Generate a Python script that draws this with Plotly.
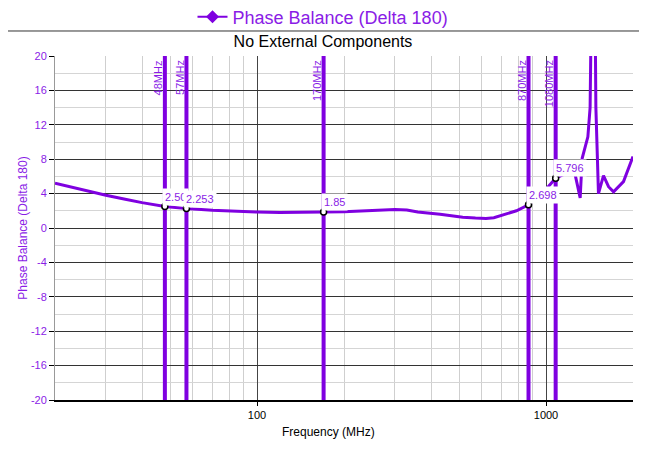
import math
import plotly.graph_objects as go

# ---- data ----
freq_mhz = [20, 25, 30, 35, 40, 48, 57, 70, 85, 100, 120, 145, 170, 200, 250, 300,
            330, 360, 430, 515, 570, 620, 660, 710, 790, 870, 1000, 1080, 1160, 1250,
            1313, 1334, 1396, 1421, 1440, 1475, 1488, 1519, 1581, 1646, 1713, 1854, 2000]
phase_bal = [5.2, 4.4, 3.8, 3.35, 2.95, 2.50, 2.253, 2.05, 1.92, 1.85, 1.8, 1.8, 1.85, 1.9, 2.05, 2.15,
             2.1, 1.85, 1.6, 1.25, 1.15, 1.1, 1.2, 1.55, 2.0, 2.698, 4.5, 5.796, 6.3, 6.8,
             3.5, 8.1, 10.6, 14.0, 30.0, 30.0, 14.0, 4.0, 6.1, 4.8, 4.2, 5.4, 8.3]

marker_freq = [48, 57, 170, 870, 1080]
marker_vals = [2.50, 2.253, 1.85, 2.698, 5.796]
marker_text = ["2.50", "2.253", "1.85", "2.698", "5.796"]
marker_names = ["48MHz", "57MHz", "170MHz", "870MHz", "1080MHz"]

x_tickvals = [100, 1000]
x_ticktext = ["100", "1000"]
x_minor = [20, 30, 40, 50, 60, 70, 80, 90, 200, 300, 400, 500, 600, 700, 800, 900, 2000]
y_tickvals = [-20, -16, -12, -8, -4, 0, 4, 8, 12, 16, 20]
y_ticktext = ["-20", "-16", "-12", "-8", "-4", "0", "4", "8", "12", "16", "20"]

series_name = "Phase Balance (Delta 180)"
subtitle = "No External Components"
x_title = "Frequency (MHz)"
y_title = "Phase Balance (Delta 180)"

PURPLE = "#7F00E0"
TXT_PURPLE = "#8A1CE6"
FONT = "Arial, Liberation Sans, sans-serif"

W, H = 639, 441  # page body has an 8px margin

fig = go.Figure()

# vertical marker lines
for f in marker_freq:
    fig.add_trace(go.Scatter(x=[f, f], y=[-20, 20], mode="lines",
                             line=dict(color=PURPLE, width=4),
                             showlegend=False, hoverinfo="skip"))

# main curve
fig.add_trace(go.Scatter(x=freq_mhz, y=phase_bal, mode="lines",
                         line=dict(color=PURPLE, width=3),
                         showlegend=False))

# legend entry
fig.add_trace(go.Scatter(x=[None], y=[None], mode="lines+markers", name=series_name,
                         line=dict(color=PURPLE, width=2),
                         marker=dict(symbol="diamond", size=10, color=PURPLE)))

# marker points
fig.add_trace(go.Scatter(x=marker_freq, y=marker_vals, mode="markers",
                         marker=dict(symbol="circle", size=6, color="white",
                                     line=dict(color="black", width=1.5)),
                         showlegend=False))

annotations = []
for f, v, t in zip(marker_freq, marker_vals, marker_text):
    annotations.append(dict(x=math.log10(f), y=v, xref="x", yref="y", text=t,
                            showarrow=False, xanchor="left", yanchor="bottom",
                            font=dict(family=FONT, size=11, color=TXT_PURPLE),
                            bgcolor="white", borderpad=2, xshift=-3, yshift=1))
for f, n in zip(marker_freq, marker_names):
    annotations.append(dict(x=math.log10(f), y=1, xref="x", yref="paper", text=n,
                            showarrow=False, textangle=-90, xanchor="center", yanchor="top",
                            font=dict(family=FONT, size=11, color=TXT_PURPLE),
                            xshift=-7, yshift=-2))
annotations.append(dict(x=0.474, y=-0.093, xref="paper", yref="paper", text=x_title,
                        showarrow=False, xanchor="center", yanchor="middle",
                        font=dict(family=FONT, size=12, color="black")))

fig.update_layout(
    width=W, height=H,
    margin=dict(l=47, r=14, t=48, b=49, autoexpand=False),
    paper_bgcolor="white", plot_bgcolor="white",
    font=dict(family=FONT, size=11, color="black"),
    title=dict(text=subtitle, x=(323 - 8) / W, xref="container", xanchor="center",
               y=1 - 33 / H, yref="container", yanchor="middle",
               font=dict(family=FONT, size=16, color="black")),
    legend=dict(orientation="h", x=(323 - 8) / W, xanchor="center", xref="container",
                y=1 - 9 / H, yref="container", yanchor="middle",
                font=dict(family=FONT, size=18, color=TXT_PURPLE),
                bgcolor="rgba(0,0,0,0)", itemwidth=30),
    annotations=annotations,
    shapes=[dict(type="line", xref="paper", yref="paper", x0=-0.1, x1=1.03,
                 y0=1.0727, y1=1.0727, line=dict(color="#333", width=1))],
    showlegend=True,
)

fig.update_xaxes(type="log", range=[math.log10(20), math.log10(2000)],
                 tickmode="array", tickvals=x_tickvals, ticktext=x_ticktext,
                 showgrid=True, gridcolor="#444", gridwidth=1,
                 ticks="outside", ticklen=4, tickcolor="black",
                 showline=True, linecolor="black", linewidth=1.5,
                 tickfont=dict(family=FONT, size=11, color="black"),
                 zeroline=False,
                 minor=dict(tickmode="array", tickvals=x_minor, showgrid=True,
                            gridcolor="#cfcfcf", gridwidth=1, ticks=""))

fig.update_yaxes(range=[-20, 20], tickmode="array", tickvals=y_tickvals, ticktext=y_ticktext,
                 showgrid=True, gridcolor="#333", gridwidth=1,
                 ticks="outside", ticklen=5, tickcolor="black",
                 showline=True, linecolor="#999", linewidth=1,
                 tickfont=dict(family=FONT, size=11, color=TXT_PURPLE),
                 zeroline=False,
                 title=dict(text=y_title, standoff=0,
                            font=dict(family=FONT, size=12, color=TXT_PURPLE)),
                 minor=dict(tickmode="linear", tick0=-20, dtick=2, showgrid=True,
                            gridcolor="#d5d5d5", gridwidth=1, ticks=""))

fig.write_html("out.html")
